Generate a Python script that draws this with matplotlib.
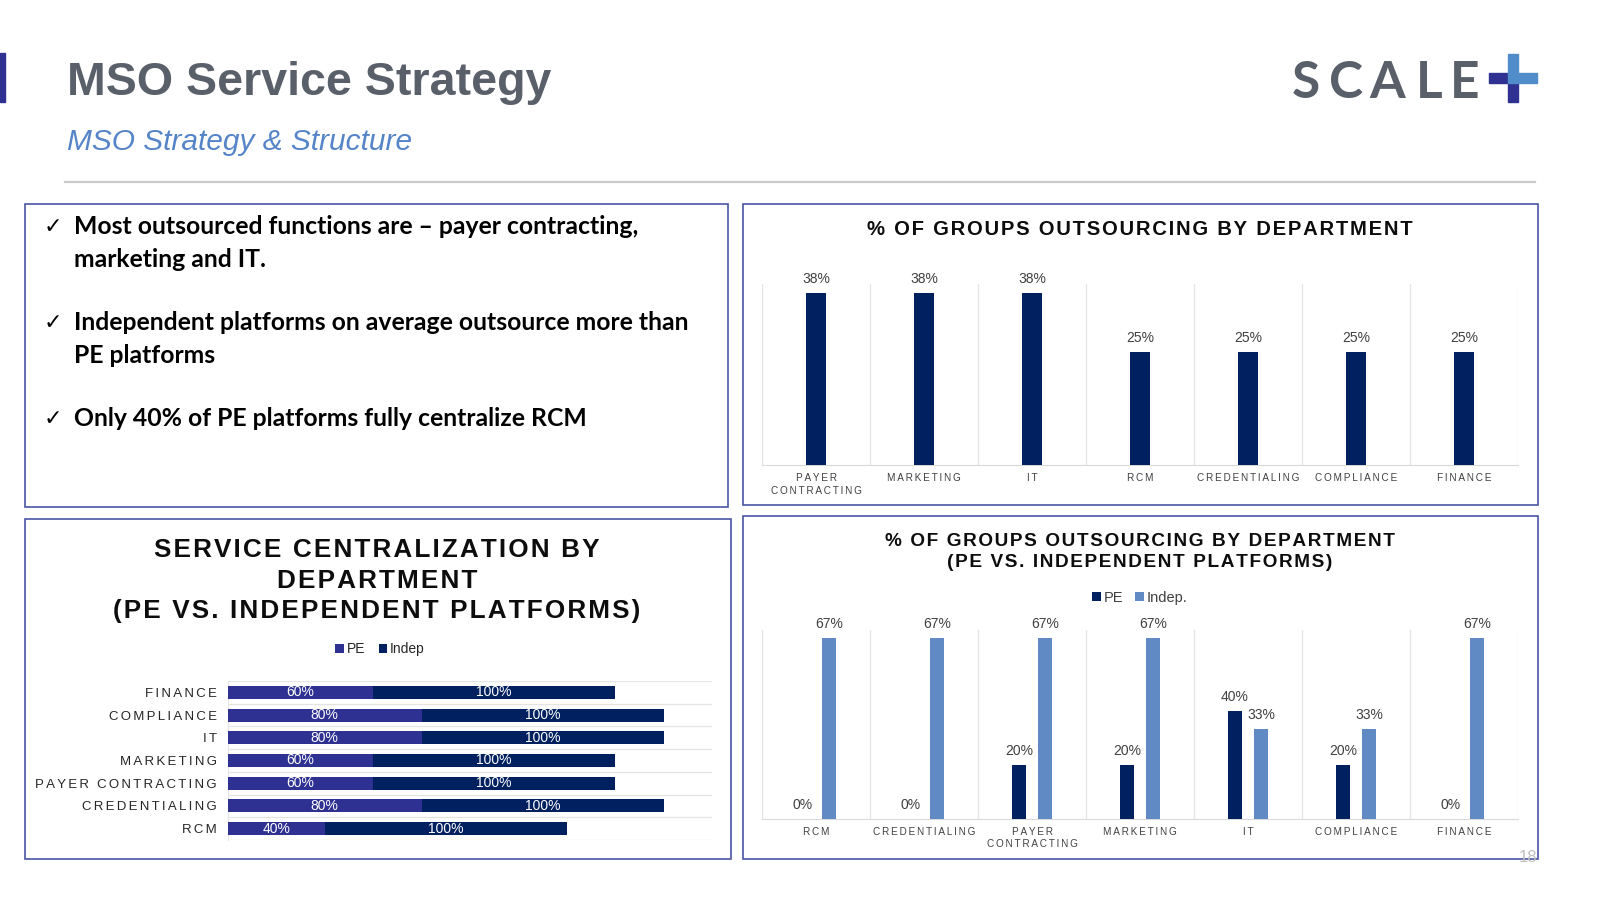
import numpy as np
import matplotlib
matplotlib.use('Agg')
import matplotlib.pyplot as plt
from matplotlib.patches import Rectangle

plt.rcParams['font.family'] = ['Liberation Sans', 'DejaVu Sans']

# --- data ---
top_cats = ['PAYER\nCONTRACTING', 'MARKETING', 'IT', 'RCM', 'CREDENTIALING', 'COMPLIANCE', 'FINANCE']
top_vals = [38, 38, 38, 25, 25, 25, 25]

br_cats = ['RCM', 'CREDENTIALING', 'PAYER\nCONTRACTING', 'MARKETING', 'IT', 'COMPLIANCE', 'FINANCE']
br_pe = [0, 0, 20, 20, 40, 20, 0]
br_indep = [67, 67, 67, 67, 33, 33, 67]

bl_cats = ['RCM', 'CREDENTIALING', 'PAYER CONTRACTING', 'MARKETING', 'IT', 'COMPLIANCE', 'FINANCE']
bl_pe = [40, 80, 60, 60, 80, 80, 60]
bl_indep = [100, 100, 100, 100, 100, 100, 100]

bullets = [['Most outsourced functions are \u2013 payer contracting,', 'marketing and IT.'],
           ['Independent platforms on average outsource more than', 'PE platforms'],
           ['Only 40% of PE platforms fully centralize RCM']]

NAVY = '#002060'
PURPLE = '#2E3192'
LIGHT = '#5F8AC4'
GRAY_TXT = '#404040'
GRID = '#E4E4E4'
BORDER = '#4A55A2'

HS = '\u200a'


def spaced(s, n=1):
    # fake letter spacing with hair spaces
    return '\n'.join((HS * n).join(line) for line in s.split('\n'))


W, H = 1600, 900
fig = plt.figure(figsize=(16, 9), dpi=100)

bg = fig.add_axes([0, 0, 1, 1])
bg.set_xlim(0, W)
bg.set_ylim(H, 0)
bg.axis('off')


def ax_at(x0, y0, x1, y1):
    a = fig.add_axes([x0 / W, 1 - y1 / H, (x1 - x0) / W, (y1 - y0) / H])
    a.set_facecolor('none')
    return a


# header
bg.add_patch(Rectangle((0, 53), 5, 49, color=PURPLE))
bg.text(67, 95, 'MSO Service Strategy', fontsize=33.5, fontweight='bold',
        color='#5A6069', va='baseline')
bg.text(67, 150, 'MSO Strategy & Structure', fontsize=21.5, style='italic',
        color='#5585C8', va='baseline')
bg.plot([65, 1535], [182, 182], color='#CACACA', lw=1.6)

# logo
for ch, xc in zip('SCALE', [1306, 1346, 1387, 1429, 1465]):
    bg.text(xc, 98, ch, fontsize=37, fontweight='bold', color='#5A6069',
            ha='center', va='baseline', family=['Lato', 'DejaVu Sans'])
bg.add_patch(Rectangle((1489, 73), 19, 10, color=PURPLE))
bg.add_patch(Rectangle((1508, 83), 10, 19, color=PURPLE))
bg.add_patch(Rectangle((1508, 73), 29, 10, color='#4F8CC9'))
bg.add_patch(Rectangle((1508, 54), 10, 19, color='#4F8CC9'))

# page number (sits behind the panel border)
bg.text(1537, 862, '18', fontsize=12, color='#BFBFBF', ha='right', va='baseline')

# panel borders
for (x0, y0, x1, y1) in [(24.5, 204, 727.5, 507), (743, 204, 1538, 505),
                         (24.5, 519, 731, 859), (743, 516, 1538, 859)]:
    bg.add_patch(Rectangle((x0, y0), x1 - x0, y1 - y0, fill=False,
                           ec=BORDER, lw=1.2))

# bullet text
line_y = [[234.5, 267], [330.5, 363], [426]]
for lines, ys in zip(bullets, line_y):
    bg.text(44, ys[0] - 1, '\u2713', fontsize=16, color='black', va='baseline',
            family=['DejaVu Sans'])
    for t, y in zip(lines, ys):
        bg.text(74.5, y, t, fontsize=17.8, fontweight='bold', color='black',
                va='baseline', family=['Lato', 'DejaVu Sans'])

# --- top right: % of groups outsourcing by department ---
bg.text(1140, 235, spaced('% OF GROUPS OUTSOURCING BY DEPARTMENT'), fontsize=14.6,
        fontweight='bold', color='#0D0D0D', ha='center', va='baseline')

ax1 = ax_at(762, 284, 1518, 465)
x = np.arange(len(top_cats))
bars = ax1.bar(x, top_vals, width=0.19, color=NAVY, zorder=3)
ax1.bar_label(bars, labels=[f'{v}%' for v in top_vals], padding=5,
              fontsize=10, color=GRAY_TXT)
ax1.set_xlim(-0.5, len(top_cats) - 0.5)
ax1.set_ylim(0, 40)
ax1.set_xticks(x)
ax1.set_xticklabels([spaced(c, 2) for c in top_cats], fontsize=7.2, color=GRAY_TXT,
                    linespacing=1.3, va='top')
ax1.set_xticks(np.arange(-0.5, len(top_cats), 1), minor=True)
ax1.grid(which='minor', axis='x', color=GRID, lw=0.9)
ax1.tick_params(which='both', length=0, pad=6)
ax1.set_yticks([])
for s in ['top', 'left', 'right']:
    ax1.spines[s].set_visible(False)
ax1.spines['bottom'].set_color('#D9D9D9')

# --- bottom right: PE vs independent outsourcing ---
bg.text(1140, 546, spaced('% OF GROUPS OUTSOURCING BY DEPARTMENT'), fontsize=13.7,
        fontweight='bold', color='#0D0D0D', ha='center', va='baseline')
bg.text(1140, 567, spaced('(PE VS. INDEPENDENT PLATFORMS)'), fontsize=13.7,
        fontweight='bold', color='#0D0D0D', ha='center', va='baseline')

ax2 = ax_at(762, 629.5, 1518, 818.5)
x = np.arange(len(br_cats))
b_pe = ax2.bar(x - 0.122, br_pe, width=0.135, color=NAVY, zorder=3, label='PE')
b_in = ax2.bar(x + 0.122, br_indep, width=0.135, color=LIGHT, zorder=3, label='Indep.')
ax2.bar_label(b_pe, labels=[f'{v}%' for v in br_pe], padding=5, fontsize=10,
              color=GRAY_TXT)
ax2.bar_label(b_in, labels=[f'{v}%' for v in br_indep], padding=5, fontsize=10,
              color=GRAY_TXT)
ax2.set_xlim(-0.5, len(br_cats) - 0.5)
ax2.set_ylim(0, 70)
ax2.set_xticks(x)
ax2.set_xticklabels([spaced(c, 2) for c in br_cats], fontsize=7.2, color=GRAY_TXT,
                    linespacing=1.3, va='top')
ax2.set_xticks(np.arange(-0.5, len(br_cats), 1), minor=True)
ax2.grid(which='minor', axis='x', color=GRID, lw=0.9)
ax2.tick_params(which='both', length=0, pad=6)
ax2.set_yticks([])
for s in ['top', 'left', 'right']:
    ax2.spines[s].set_visible(False)
ax2.spines['bottom'].set_color('#D9D9D9')
ax2.legend(loc='center', bbox_to_anchor=(1140 / W, 1 - 598 / H),
           bbox_transform=fig.transFigure, ncol=2, frameon=False, fontsize=10.5,
           handlelength=0.6, handleheight=0.6, handletextpad=0.2,
           columnspacing=0.8, labelcolor=GRAY_TXT)

# --- bottom left: service centralization ---
for t, y in zip(['SERVICE CENTRALIZATION BY', 'DEPARTMENT',
                 '(PE VS. INDEPENDENT PLATFORMS)'], [557, 587.5, 618]):
    bg.text(377, y, spaced(t), fontsize=18.8, fontweight='bold', color='#0D0D0D',
            ha='center', va='baseline')

ax3 = ax_at(228, 681, 712, 840)
y = np.arange(len(bl_cats))
h_pe = ax3.barh(y, bl_pe, height=0.57, color=PURPLE, zorder=3, label='PE')
h_in = ax3.barh(y, bl_indep, left=bl_pe, height=0.57, color=NAVY, zorder=3,
                label='Indep')
ax3.bar_label(h_pe, labels=[f'{v}%' for v in bl_pe], label_type='center',
              fontsize=10, color='white')
ax3.bar_label(h_in, labels=[f'{v}%' for v in bl_indep], label_type='center',
              fontsize=10, color='white')
ax3.set_xlim(0, 200)
ax3.set_ylim(-0.5, len(bl_cats) - 0.5)
ax3.set_yticks(y)
ax3.set_yticklabels([spaced(c, 2) for c in bl_cats], fontsize=9.5, color='#262626')
ax3.set_yticks(np.arange(-0.5, len(bl_cats), 1), minor=True)
ax3.grid(which='minor', axis='y', color=GRID, lw=0.9)
ax3.tick_params(which='both', length=0, pad=8)
ax3.set_xticks([])
for s in ['top', 'right', 'bottom']:
    ax3.spines[s].set_visible(False)
ax3.spines['left'].set_color('#E4E4E4')
ax3.legend(loc='center', bbox_to_anchor=(380 / W, 1 - 649 / H),
           bbox_transform=fig.transFigure, ncol=2, frameon=False, fontsize=10,
           handlelength=0.6, handleheight=0.6, handletextpad=0.2,
           columnspacing=1.0, labelcolor='#262626')

fig.savefig('out.png', dpi=100, facecolor='white')
